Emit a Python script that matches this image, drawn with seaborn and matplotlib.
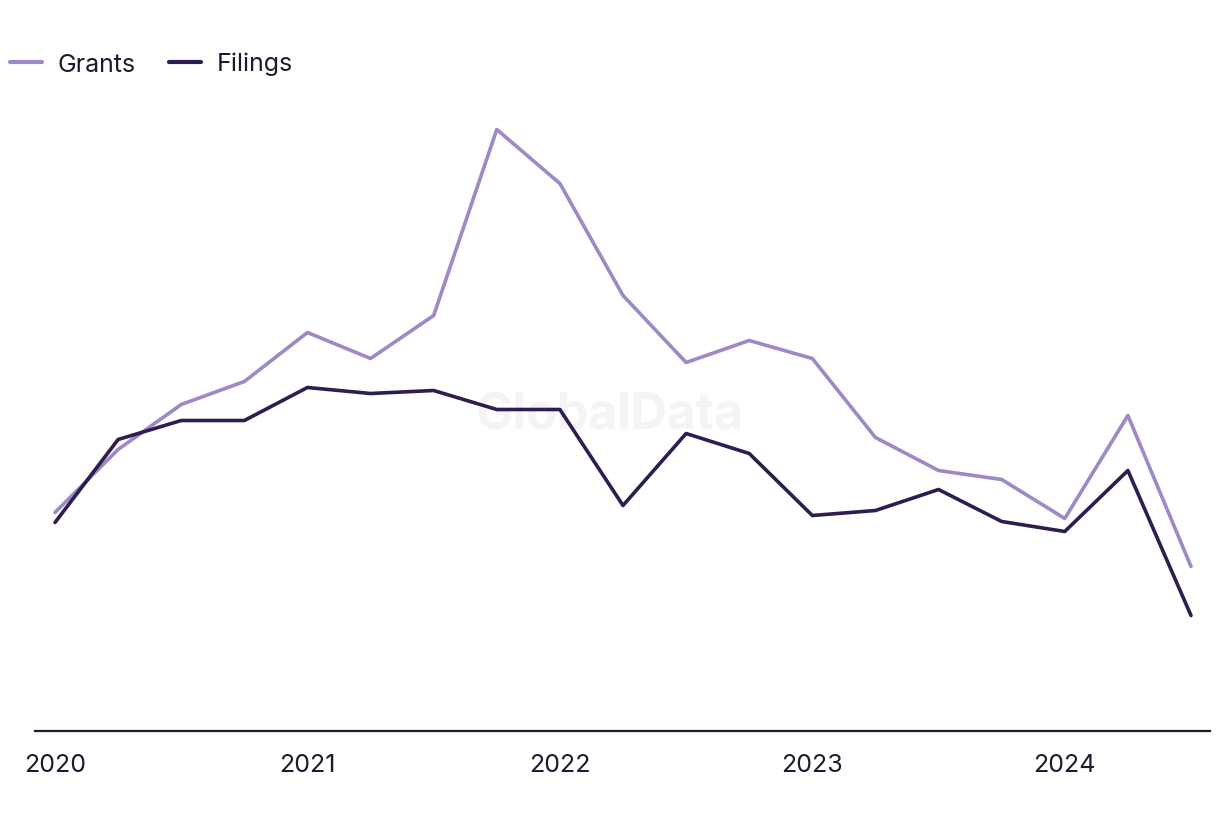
import matplotlib
matplotlib.use("Agg")
import matplotlib.pyplot as plt
import seaborn as sns
import pandas as pd

quarters = ["2020Q1", "2020Q2", "2020Q3", "2020Q4", "2021Q1", "2021Q2", "2021Q3", "2021Q4",
            "2022Q1", "2022Q2", "2022Q3", "2022Q4", "2023Q1", "2023Q2", "2023Q3", "2023Q4",
            "2024Q1", "2024Q2", "2024Q3"]
grants = [218, 281, 326, 349, 398, 372, 415, 601, 547, 435, 368, 390, 372, 293, 260, 251, 212, 315, 164]
filings = [208, 291, 310, 310, 343, 337, 340, 321, 321, 225, 297, 277, 215, 220, 241, 209, 199, 260, 115]
year_ticks = ["2020", "2021", "2022", "2023", "2024"]

idx = list(range(len(quarters)))
df = pd.DataFrame({
    "q": idx * 2,
    "value": grants + filings,
    "series": ["Grants"] * len(idx) + ["Filings"] * len(idx),
})

sns.set_theme(style="white")
plt.rcParams["font.family"] = ["Inter", "DejaVu Sans"]

text_color = "#1b1b2f"
fig = plt.figure(figsize=(12.2, 8.2), dpi=100)
ax = fig.add_axes([35 / 1220, 88.5 / 820, 1175 / 1220, 630 / 820])

sns.lineplot(data=df, x="q", y="value", hue="series",
             palette={"Grants": "#9e88c6", "Filings": "#2f1c50"},
             linewidth=2.6, ax=ax, legend=True)

ax.set_xlim(-20 / 63.1, 18 + 19 / 63.1)
ax.set_ylim(0, 630)
ax.set_xticks([0, 4, 8, 12, 16])
ax.set_xticklabels(year_ticks, fontsize=18, color=text_color)
ax.set_yticks([])
ax.set_xlabel("")
ax.set_ylabel("")
for s in ["top", "right", "left"]:
    ax.spines[s].set_visible(False)
ax.spines["bottom"].set_color(text_color)
ax.spines["bottom"].set_linewidth(1.6)
ax.tick_params(axis="x", length=0, pad=16)

ax.text(0.489, 0.50, "GlobalData", transform=ax.transAxes, ha="center", va="center",
        fontsize=36, fontweight="bold", color="#f4f4f4", zorder=0)

handles, labels = ax.get_legend_handles_labels()
ax.get_legend().remove()
leg = fig.legend(handles, labels, loc="upper left", bbox_to_anchor=(10 / 1220, 1 - 53 / 820),
                 ncol=2, frameon=False, fontsize=18, handlelength=1.28,
                 columnspacing=1.3, handletextpad=0.64, borderaxespad=0, borderpad=0)
for t in leg.get_texts():
    t.set_color(text_color)
for h in leg.get_lines():
    h.set_linewidth(3)

fig.savefig("out.png", dpi=100, facecolor="white")
